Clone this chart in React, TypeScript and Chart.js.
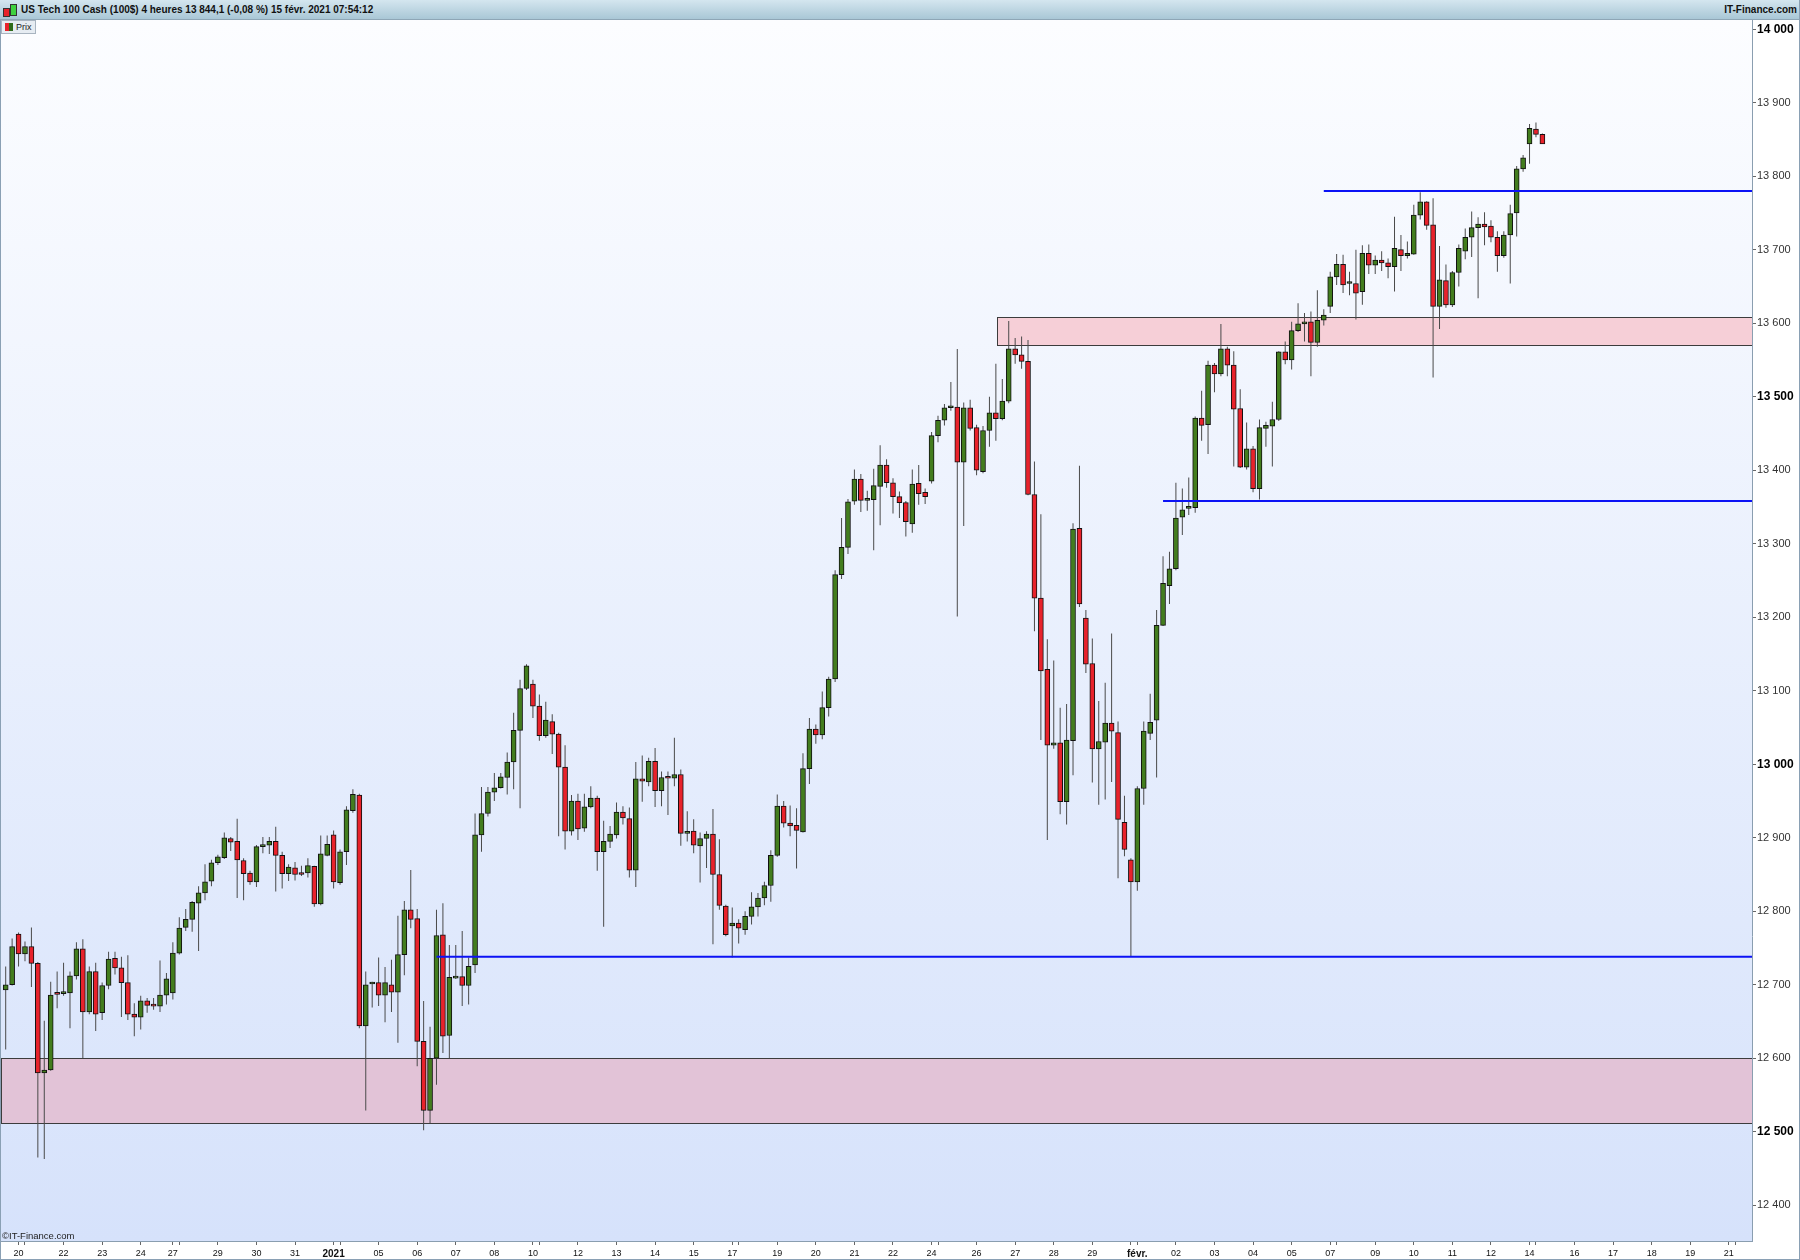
import React, { useEffect, useRef } from 'react';
import { Chart, registerables } from 'chart.js';
Chart.register(...registerables);

const TITLE = 'US Tech 100 Cash (100$) 4 heures 13 844,1 (-0,08 %) 15 févr. 2021 07:54:12';

const opens = [
12693,12700,12769,12742,12752,12729,12580,12584,12688,12688,
12689,12712,12749,12663,12718,12662,12699,12736,12723,12703,
12660,12656,12678,12672,12671,12686,12689,12743,12778,12789,
12811,12825,12841,12866,12873,12899,12895,12869,12852,12840,
12888,12890,12895,12876,12851,12859,12851,12852,12861,12810,
12876,12904,12839,12881,12937,12958,12644,12701,12703,12686,
12700,12690,12741,12802,12790,12623,12529,12600,12768,12631,
12709,12711,12699,12727,12904,12933,12962,12968,12982,13003,
13046,13103,13109,13079,13039,13058,13041,12996,12909,12950,
12913,12942,12954,12881,12895,12904,12935,12926,12856,12980,
12976,13004,12964,12982,12981,12986,12906,12909,12889,12899,
12905,12850,12807,12780,12784,12775,12793,12806,12818,12835,
12876,12943,12920,12917,12908,12994,13048,13040,13077,13116,
13258,13295,13358,13388,13359,13360,13378,13407,13383,13364,
13356,13327,13382,13370,13385,13447,13468,13485,13486,13411,
13485,13458,13398,13454,13478,13470,13494,13565,13557,13548,
13367,13226,13129,13026,13029,12949,13032,13321,13199,13137,
13021,13030,13056,13043,12921,12870,12840,12967,13042,13060,
13189,13243,13266,13336,13348,13349,13471,13462,13543,13531,
13565,13543,13484,13404,13429,13375,13457,13460,13469,13561,
13550,13590,13599,13602,13574,13604,13623,13663,13680,13654,
13654,13643,13695,13679,13686,13682,13677,13700,13692,13694,
13747,13765,13734,13623,13658,13625,13669,13698,13717,13730,
13735,13732,13717,13692,13720,13750,13810,13844,13864,13857];

const highs = [
12725,12763,12771,12759,12778,12731,12651,12704,12718,12730,
12718,12758,12762,12725,12730,12703,12745,12745,12738,12740,
12675,12685,12682,12682,12733,12716,12758,12792,12803,12814,
12834,12864,12870,12877,12907,12901,12926,12872,12855,12890,
12901,12901,12915,12881,12864,12867,12862,12872,12862,12903,
12903,12910,12884,12943,12966,12960,12718,12704,12737,12724,
12734,12794,12814,12856,12803,12678,12643,12802,12811,12754,
12754,12773,12737,12933,12969,12969,12988,12988,13016,13070,
13115,13136,13115,13095,13085,13068,13043,13026,12958,12960,
12960,12970,12957,12923,12916,12948,12943,12941,13003,13012,
13009,13022,12990,12990,13036,12993,12936,12925,12907,12909,
12939,12898,12809,12805,12789,12800,12826,12825,12840,12883,
12959,12950,12944,12940,13015,13063,13054,13099,13119,13264,
13335,13361,13401,13395,13372,13402,13434,13415,13389,13371,
13358,13401,13407,13375,13452,13474,13490,13520,13565,13492,
13496,13462,13460,13500,13545,13524,13603,13580,13582,13577,
13412,13340,13170,13141,13077,13082,13328,13406,13210,13171,
13086,13111,13178,13058,12957,12872,12970,13058,13096,13210,
13283,13289,13383,13375,13390,13473,13508,13549,13546,13599,
13568,13562,13510,13465,13433,13469,13466,13493,13562,13575,
13602,13627,13614,13616,13645,13619,13670,13694,13693,13670,
13700,13706,13707,13692,13698,13688,13745,13720,13711,13761,
13778,13766,13770,13705,13680,13671,13707,13729,13752,13744,
13751,13740,13725,13725,13761,13814,13829,13871,13873,13858];

const lows = [
12612,12699,12725,12732,12697,12465,12463,12583,12668,12685,
12641,12707,12600,12660,12637,12652,12694,12714,12656,12652,
12630,12639,12662,12666,12663,12673,12680,12741,12773,12772,
12746,12815,12834,12863,12871,12882,12818,12815,12836,12833,
12879,12878,12827,12831,12841,12842,12848,12846,12806,12808,
12875,12831,12836,12863,12934,12641,12529,12669,12671,12649,
12663,12621,12713,12777,12589,12502,12512,12564,12607,12600,
12708,12671,12673,12716,12881,12929,12950,12967,12959,12966,
12940,13101,13063,13032,13036,13014,12902,12884,12903,12897,
12908,12940,12855,12779,12886,12899,12918,12846,12833,12949,
12970,12942,12943,12931,12970,12889,12895,12879,12839,12859,
12755,12802,12766,12737,12756,12768,12782,12793,12808,12813,
12874,12914,12902,12858,12907,12973,13028,13034,13065,13112,
13252,13286,13353,13343,13345,13291,13325,13376,13341,13335,
13310,13315,13353,13354,13382,13438,13461,13481,13201,13324,
13454,13393,13396,13432,13440,13468,13491,13545,13538,13366,
13181,13033,12897,13021,12932,12918,12985,13214,13124,12975,
12945,12952,12976,12845,12875,12738,12828,12945,13033,12982,
13188,13218,13264,13312,13339,13342,13440,13422,13506,13528,
13528,13405,13403,13401,13370,13360,13432,13405,13467,13544,
13537,13588,13575,13528,13568,13597,13614,13652,13641,13638,
13605,13625,13667,13667,13671,13661,13643,13671,13688,13693,
13741,13727,13526,13592,13621,13622,13650,13687,13690,13634,
13706,13710,13670,13689,13654,13718,13806,13817,13853,13844];

const closes = [
12700,12752,12742,12752,12729,12580,12584,12686,12687,12690,
12712,12749,12663,12718,12660,12699,12735,12723,12703,12660,
12656,12678,12672,12671,12686,12708,12743,12777,12789,12812,
12825,12840,12866,12874,12900,12894,12870,12851,12840,12888,
12889,12895,12876,12851,12860,12850,12850,12862,12810,12878,
12891,12840,12881,12938,12959,12644,12700,12702,12686,12703,
12690,12741,12802,12789,12623,12529,12600,12767,12630,12710,
12710,12699,12725,12904,12933,12962,12968,12983,13003,13046,
13103,13134,13079,13039,13060,13041,12996,12909,12950,12912,
12942,12954,12881,12895,12905,12935,12927,12856,12980,12977,
13004,12964,12982,12981,12986,12906,12907,12890,12899,12905,
12850,12808,12768,12784,12777,12793,12806,12818,12835,12876,
12943,12920,12916,12910,12994,13048,13040,13077,13116,13258,
13295,13357,13388,13359,13361,13379,13407,13383,13364,13356,
13330,13381,13368,13364,13447,13468,13485,13486,13411,13485,
13457,13400,13454,13478,13470,13494,13565,13557,13548,13367,
13226,13127,13026,13029,12949,13033,13320,13218,13136,13021,
13031,13056,13045,12925,12884,12840,12967,13045,13057,13189,
13246,13266,13335,13346,13349,13471,13461,13543,13531,13565,
13543,13483,13404,13429,13375,13458,13461,13469,13561,13550,
13590,13599,13602,13574,13604,13611,13663,13680,13652,13655,
13641,13695,13679,13686,13682,13677,13702,13692,13695,13747,
13765,13733,13623,13659,13625,13669,13702,13717,13730,13735,
13731,13717,13692,13720,13749,13810,13825,13865,13857,13844];

// x axis: bar index of the first bar of each day, and its label ('' = tick only)
const dayStarts = [2,3,9,15,21,26,27,33,39,45,51,52,58,64,70,76,82,83,89,95,101,107,113,114,120,126,132,138,144,145,151,157,163,169,175,176,182,188,194,200,206,207,213,219,225,231,237,238,244,250,256,262,268,269];
const dayLabels = ['20','','22','23','24','27','','29','30','31','2021','','05','06','07','08','10','','12','13','14','15','17','','19','20','21','22','24','','26','27','28','29','','févr.','02','03','04','05','07','','09','10','11','12','14','','16','17','18','19','21',''];
const boldLabels = ['2021', 'févr.'];

const yTicks = [12400,12500,12600,12700,12800,12900,13000,13100,13200,13300,13400,13500,13600,13700,13800,13900,14000];

// horizontal support / resistance lines
const levelValues = [13780, 13358, 12738];
const levelStarts = [205, 180, 67];

// zones
const zoneStarts = [-0.73, 154.1];
const zoneTops = [12600, 13608];
const zoneBottoms = [12512, 13570];
const zoneColors = ['#e2c3d7', '#f6cfd7'];

const X_MIN = -0.73;
const X_MAX = 271.6;
const Y_MIN = 12351.4;
const Y_MAX = 14012.5;

const GREEN = '#437d1e';
const RED = '#e8222b';
const BLUE = '#0b12f5';
const FONT = '"Liberation Sans", Arial, sans-serif';

const fmt = (v: number) => {
  const s = String(Math.round(v));
  return s.length > 3 ? s.slice(0, s.length - 3) + ' ' + s.slice(-3) : s;
};

const bgPlugin = {
  id: 'bgPlugin',
  beforeDraw(chart: any) {
    const { ctx, chartArea } = chart;
    const g = ctx.createLinearGradient(0, chartArea.top, 0, chartArea.bottom);
    g.addColorStop(0, '#fcfdff');
    g.addColorStop(1, '#d6e2fb');
    ctx.save();
    ctx.fillStyle = g;
    ctx.fillRect(chartArea.left, chartArea.top, chartArea.right - chartArea.left, chartArea.bottom - chartArea.top);
    ctx.restore();
  },
  beforeDatasetsDraw(chart: any) {
    const { ctx, chartArea, scales } = chart;
    const xs = scales.x, ys = scales.y;
    ctx.save();
    ctx.beginPath();
    ctx.rect(chartArea.left, chartArea.top, chartArea.right - chartArea.left, chartArea.bottom - chartArea.top);
    ctx.clip();
    zoneStarts.forEach((s, k) => {
      const x0 = Math.max(chartArea.left, Math.round(xs.getPixelForValue(s))) + 0.5;
      const x1 = chartArea.right + 2;
      const y0 = Math.round(ys.getPixelForValue(zoneTops[k])) + 0.5;
      const y1 = Math.round(ys.getPixelForValue(zoneBottoms[k])) + 0.5;
      ctx.fillStyle = zoneColors[k];
      ctx.fillRect(x0, y0, x1 - x0, y1 - y0);
      ctx.strokeStyle = '#3c3c3c';
      ctx.lineWidth = 1;
      ctx.strokeRect(x0, y0, x1 - x0, y1 - y0);
    });
    ctx.restore();
  },
};

export default function App() {
  const ref = useRef<HTMLCanvasElement>(null);

  useEffect(() => {
    const canvas = ref.current;
    if (!canvas) return;
    const idx = opens.map((_, i) => i);
    const bodies = idx.map((i) => ({ x: i, y: [opens[i], closes[i]] }));
    const wicks = idx.map((i) => ({ x: i, y: [lows[i], highs[i]] }));
    const bodyColors = idx.map((i) => (closes[i] >= opens[i] ? GREEN : RED));
    const labelMap: Record<number, string> = {};
    dayStarts.forEach((d, k) => { labelMap[d] = dayLabels[k]; });

    const lineSets = levelValues.map((lv, k) => ({
      type: 'line' as const,
      data: [{ x: levelStarts[k], y: lv }, { x: X_MAX, y: lv }],
      borderColor: BLUE,
      borderWidth: 2,
      pointRadius: 0,
      order: 0,
    }));

    const chart = new Chart(canvas, {
      type: 'bar',
      data: {
        datasets: [
          ...lineSets,
          {
            type: 'bar',
            data: bodies as any,
            backgroundColor: bodyColors,
            borderColor: '#111',
            borderWidth: 1,
            borderSkipped: false,
            barThickness: 5,
            minBarLength: 2,
            grouped: false,
            order: 1,
          } as any,
          {
            type: 'bar',
            data: wicks as any,
            backgroundColor: '#4a4a4a',
            borderWidth: 0,
            barThickness: 1,
            inflateAmount: 0,
            grouped: false,
            order: 2,
          } as any,
        ],
      },
      options: {
        responsive: false,
        animation: false,
        devicePixelRatio: 1,
        events: [],
        layout: { padding: { left: 1, right: 0, top: 0, bottom: 0 } },
        plugins: { legend: { display: false }, tooltip: { enabled: false } },
        scales: {
          x: {
            type: 'linear',
            min: X_MIN,
            max: X_MAX,
            offset: false,
            afterBuildTicks: (s: any) => { s.ticks = dayStarts.map((v) => ({ value: v })); },
            afterFit: (s: any) => { s.height = 19; s.paddingLeft = 0; s.paddingRight = 0; },
            grid: { display: true, offset: false, drawOnChartArea: false, drawTicks: true, tickLength: 4, color: '#666' },
            border: { display: true, color: '#8a9eb0' },
            ticks: {
              autoSkip: false,
              maxRotation: 0,
              minRotation: 0,
              padding: 3,
              color: '#111',
              font: (c: any) => {
                const lab = c.tick ? labelMap[c.tick.value] : '';
                return boldLabels.includes(lab)
                  ? { family: FONT, size: 10, weight: 'bold' }
                  : { family: FONT, size: 9 };
              },
              callback: (v: any) => labelMap[v as number] ?? '',
            },
          } as any,
          y: {
            type: 'linear',
            position: 'right',
            min: Y_MIN,
            max: Y_MAX,
            beginAtZero: false,
            afterBuildTicks: (s: any) => { s.ticks = yTicks.map((v) => ({ value: v })); },
            afterFit: (s: any) => { s.width = 48; s.paddingTop = 0; s.paddingBottom = 0; },
            grid: { display: true, drawOnChartArea: false, drawTicks: true, tickLength: 4, color: '#666' },
            border: { display: true, color: '#8a9eb0' },
            ticks: {
              padding: 1,
              color: (c: any) => (c.tick && c.tick.value % 500 === 0 ? '#000' : '#333'),
              font: (c: any) =>
                c.tick && c.tick.value % 500 === 0
                  ? { family: FONT, size: 12, weight: 'bold' }
                  : { family: FONT, size: 11 },
              callback: (v: any) => fmt(v as number),
            },
          } as any,
        },
      },
      plugins: [bgPlugin],
    });
    return () => chart.destroy();
  }, []);

  return (
    <div style={{ position: 'absolute', left: 0, top: 0, width: 1800, height: 1260, background: '#fff', overflow: 'hidden', fontFamily: FONT }}>
      <div style={{ position: 'absolute', left: 0, top: 0, width: 1800, height: 19, background: 'linear-gradient(#d4e6ef, #a9c7d6)', borderBottom: '1px solid #8ea6b6' }}>
        <div style={{ position: 'absolute', left: 3, top: 8, width: 5, height: 7, background: RED, border: '1px solid #333' }} />
        <div style={{ position: 'absolute', left: 10, top: 4, width: 5, height: 10, background: '#3fd23f', border: '1px solid #333' }} />
        <span style={{ position: 'absolute', left: 21, top: 3, fontSize: 10, lineHeight: '14px', fontWeight: 'bold', color: '#111', whiteSpace: 'nowrap' }}>{TITLE}</span>
        <span style={{ position: 'absolute', right: 3, top: 3, fontSize: 10, lineHeight: '14px', fontWeight: 'bold', color: '#111', whiteSpace: 'nowrap' }}>IT-Finance.com</span>
      </div>
      <canvas ref={ref} width={1800} height={1240} style={{ position: 'absolute', left: 0, top: 20, width: 1800, height: 1240 }} />
      <div style={{ position: 'absolute', left: 1, top: 20, width: 33, height: 12, background: '#e6ecf2', border: '1px solid #a8b4c0' }}>
        <div style={{ position: 'absolute', left: 3, top: 2, width: 4, height: 8, background: RED }} />
        <div style={{ position: 'absolute', left: 7, top: 2, width: 4, height: 8, background: '#2f6b1a' }} />
        <span style={{ position: 'absolute', left: 14, top: 0, fontSize: 9, lineHeight: '12px', color: '#222' }}>Prix</span>
      </div>
      <span style={{ position: 'absolute', left: 2, top: 1230, fontSize: 9.5, lineHeight: '11px', color: '#222', whiteSpace: 'nowrap' }}>©IT-Finance.com</span>
      <div style={{ position: 'absolute', left: 0, top: 20, width: 1, height: 1240, background: '#8aa0b4' }} />
      <div style={{ position: 'absolute', right: 0, top: 0, width: 1, height: 1260, background: '#8aa0b4' }} />
      <div style={{ position: 'absolute', left: 0, bottom: 0, width: 1800, height: 1, background: '#8aa0b4' }} />
    </div>
  );
}
